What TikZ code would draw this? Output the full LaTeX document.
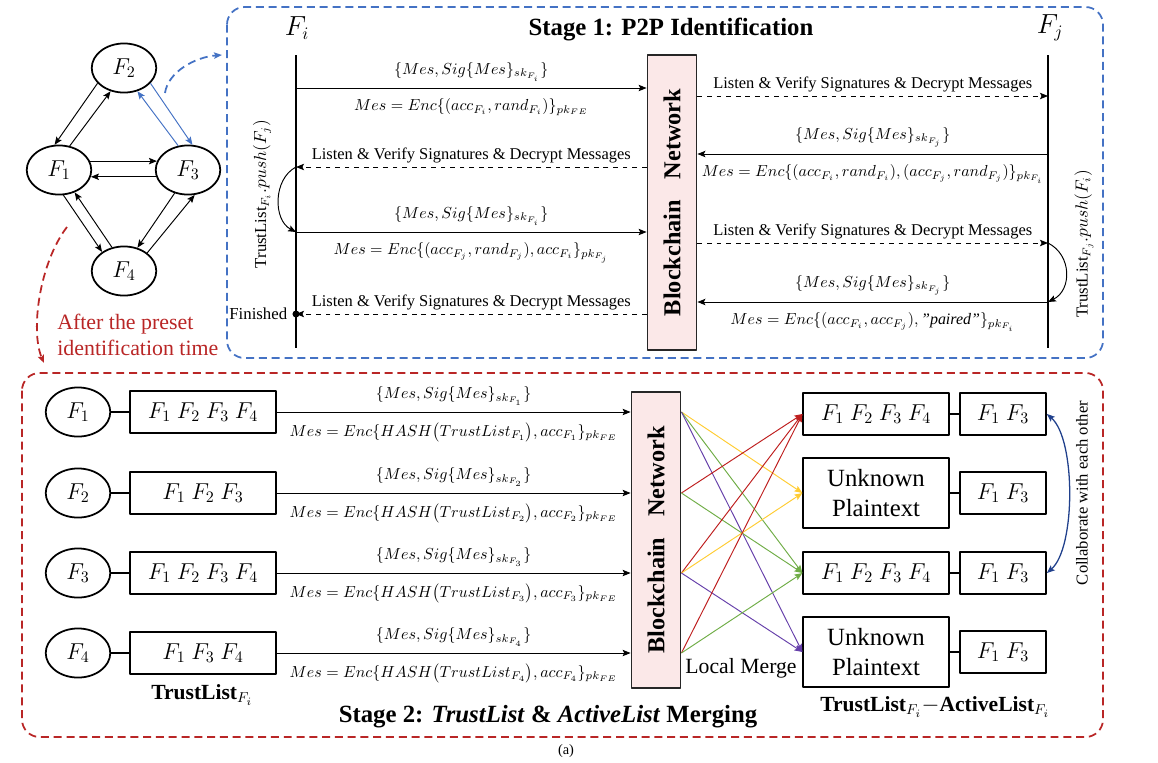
\documentclass[tikz,border=0pt]{standalone}
\usepackage{fontspec}
\setmainfont{Liberation Serif}
\usetikzlibrary{arrows.meta,positioning,shapes.geometric}
\definecolor{bluedash}{RGB}{68,114,196}
\definecolor{reddash}{RGB}{185,38,38}
\definecolor{chainpink}{RGB}{251,232,232}
\definecolor{lnred}{RGB}{190,30,30}
\definecolor{lnyellow}{RGB}{255,204,51}
\definecolor{lngreen}{RGB}{112,173,71}
\definecolor{lnpurple}{RGB}{102,64,170}
\definecolor{collab}{RGB}{32,64,140}
\newcommand{\setfs}[2]{\fontsize{#1}{#2}\selectfont}
\begin{document}
\begin{tikzpicture}[x=0.022cm, y=-0.022cm, line join=round, >={Stealth[length=5pt,width=4pt,inset=1pt]},
	fnode/.style={ellipse, draw, line width=1.1pt, minimum width=1.42cm, minimum height=1.08cm, inner sep=0pt, font=\setfs{14}{16}},
	listbox/.style={draw, line width=1.1pt, minimum width=3.2cm, minimum height=0.92cm, inner sep=0pt, font=\setfs{14}{16}},
	actbox/.style={listbox, minimum width=1.89cm},
	chainbox/.style={draw=black!85, line width=1.1pt, fill=chainpink, minimum width=1.08cm, minimum height=6.5cm},
	chaintext/.style={rotate=90, font=\bfseries\setfs{15.2}{18}},
	msg/.style={line width=0.6pt},
	lab/.style={font=\setfs{10}{12}, inner sep=2pt},
	listen/.style={font=\setfs{10.3}{12}, inner sep=2pt},
	lifeline/.style={line width=1.8pt},
	stagebox/.style={dash pattern=on 5pt off 3pt, line width=1.1pt, rounded corners=11pt}]
	\useasboundingbox (0,0) rectangle (1158,762);
	
	% federation graph
	\node[fnode] (g2) at (124,68) {$F_2$};
	\node[fnode] (g1) at (59,170) {$F_1$};
	\node[fnode] (g3) at (188,170) {$F_3$};
	\node[fnode] (g4) at (124,271) {$F_4$};
	\foreach \a/\b in {g2.210/g1.100, g1.66/g2.240, g1.16/g3.164, g3.192/g1.348, g1.280/g4.139, g4.117/g1.305, g3.240/g4.60, g4.38/g3.285}
	\draw[msg,->] (\a) -- (\b);
	\draw[msg,->,bluedash] (g2.330) -- (g3.80);
	\draw[msg,->,bluedash] (g3.112) -- (g2.300);
	
	\path
	(165,93) coordinate (bs)
	(222,55) coordinate (be)
	(67,227) coordinate (rs)
	(44,363) coordinate (re);
	\draw[stagebox,bluedash,->] (bs) .. controls (168,72) and (195,57) .. (be);
	\draw[stagebox,reddash,->] (rs) .. controls (40,262) and (30,330) .. (re);
	\node[reddash, anchor=west, align=left, font=\setfs{13.7}{16.3}, inner sep=0pt] (after) at (57,335) {After the preset\\identification time};
	
	% Stage 1
	\draw[stagebox,bluedash] (227,7) rectangle (1103,358);
	\node[font=\bfseries\setfs{15.5}{18}] (st1) at (671,30) {Stage 1: P2P Identification};
	\node[font=\setfs{16}{18}] (Fi) at (297,28) {$F_i$};
	\node[font=\setfs{16}{18}] (Fj) at (1050,28) {$F_j$};
	\path
	(296,55) coordinate (Fitop) (296,348) coordinate (Fibot)
	(1048,55) coordinate (Fjtop) (1048,348) coordinate (Fjbot)
	(296,88) coordinate (a1) (296,167) coordinate (a2) (296,232) coordinate (a3) (296,314) coordinate (a4)
	(1048,96) coordinate (b1) (1048,154) coordinate (b2) (1048,243) coordinate (b3) (1048,302) coordinate (b4);
	\draw[lifeline] (Fitop) -- (Fibot);
	\draw[lifeline] (Fjtop) -- (Fjbot);
	\node[chainbox] (bc1) at (672,202.5) {};
	\node[chaintext] at (bc1) {Blockchain\hspace{13pt}Network};
	
	\draw[msg,->] (a1) -- (a1 -| bc1.west)
	node[lab,midway,above=2pt] {$\{Mes,Sig\{Mes\}_{sk_{F_i}}\}$}
	node[lab,midway,below=4.5pt] {$Mes=Enc\{(acc_{F_i},rand_{F_i})\}_{pk_{FE}}$};
	\draw[msg,->,dashed] (a2 -| bc1.west) -- (a2) node[listen,midway,above] {Listen \& Verify Signatures \& Decrypt Messages};
	\draw[msg,->] (a3) -- (a3 -| bc1.west)
	node[lab,midway,above=2pt] {$\{Mes,Sig\{Mes\}_{sk_{F_i}}\}$}
	node[lab,midway,below=4.5pt] {$Mes=Enc\{(acc_{F_j},rand_{F_j}),acc_{F_i}\}_{pk_{F_j}}$};
	\draw[msg,->,dashed] (a4 -| bc1.west) -- (a4) node[listen,midway,above] {Listen \& Verify Signatures \& Decrypt Messages};
	\fill (a4) circle (2.2pt);
	\node[font=\setfs{10.5}{12}, left=2pt] (fin) at (a4) {Finished};
	
	\draw[msg,->,dashed] (b1 -| bc1.east) -- (b1) node[listen,midway,above] {Listen \& Verify Signatures \& Decrypt Messages};
	\draw[msg,->] (b2) -- (b2 -| bc1.east)
	node[lab,midway,above=2pt] {$\{Mes,Sig\{Mes\}_{sk_{F_j}}\}$}
	node[lab,midway,below=4.5pt] {$Mes=Enc\{(acc_{F_i},rand_{F_i}),(acc_{F_j},rand_{F_j})\}_{pk_{F_i}}$};
	\draw[msg,->,dashed] (b3 -| bc1.east) -- (b3) node[listen,midway,above] {Listen \& Verify Signatures \& Decrypt Messages};
	\draw[msg,->] (b4) -- (b4 -| bc1.east)
	node[lab,midway,above=2pt] {$\{Mes,Sig\{Mes\}_{sk_{F_j}}\}$}
	node[lab,midway,below=4.5pt] {$Mes=Enc\{(acc_{F_i},acc_{F_j}),\mbox{\itshape "paired"}\}_{pk_{F_i}}$};
	
	\draw[msg,->] (a2) .. controls +(-23,12) and +(-23,-12) .. (a3);
	\draw[msg,->] (b3) .. controls +(24,12) and +(24,-12) .. (b4);
	\node[rotate=90, font=\setfs{10.5}{12}] (pushj) at (262,194) {TrustList$_{F_i}.push(F_j)$};
	\node[rotate=90, font=\setfs{10.5}{12}] (pushi) at (1084,244) {TrustList$_{F_j}.push(F_i)$};
	
	% Stage 2
	\draw[stagebox,reddash] (22,373) rectangle (1103,737);
	\node[chainbox] (bc2) at (656,540) {};
	\node[chaintext] at (bc2) {Blockchain\hspace{13pt}Network};
	\foreach \i/\y/\lst in {1/412/{F_1\ F_2\ F_3\ F_4}, 2/493/{F_1\ F_2\ F_3}, 3/573/{F_1\ F_2\ F_3\ F_4}, 4/653/{F_1\ F_3\ F_4}} {
		\node[fnode] (e\i) at (78,\y) {$F_\i$};
		\node[listbox] (tl\i) at (203,\y) {$\lst$};
		\draw[line width=1.1pt] (e\i) -- (tl\i);
		\draw[msg,->] (tl\i) -- (tl\i -| bc2.west)
		node[lab,midway,above=2pt] {$\{Mes,Sig\{Mes\}_{sk_{F_\i}}\}$}
		node[lab,midway,below=4.5pt] {$Mes=Enc\{HASH\big(TrustList_{F_\i}\big),acc_{F_\i}\}_{pk_{FE}}$};
	}
	\node[listbox] (mg1) at (876,414) {$F_1\ F_2\ F_3\ F_4$};
	\node[listbox, minimum height=1.54cm, align=center, font=\setfs{15.5}{18.8}] (mg2) at (876,493) {Unknown\\Plaintext};
	\node[listbox] (mg3) at (876,573) {$F_1\ F_2\ F_3\ F_4$};
	\node[listbox, minimum height=1.54cm, align=center, font=\setfs{15.5}{18.8}] (mg4) at (876,652) {Unknown\\Plaintext};
	\foreach \i/\y in {1/414, 2/493, 3/573, 4/652} {
		\node[actbox] (ac\i) at (1003,\y) {$F_1\ F_3$};
		\draw[line width=1.1pt] (mg\i) -- (ac\i);
	}
	\foreach \s/\t/\c in {1/2/lnyellow, 1/3/lngreen, 1/4/lnpurple, 2/1/lnred, 2/3/lngreen, 3/1/lnred, 3/2/lnyellow, 3/4/lnpurple, 4/1/lnred, 4/3/lngreen}
	\draw[msg,->,\c] (tl\s -| bc2.east) -- (mg\t.west);
	
	\draw[<->, collab, line width=0.8pt] (ac1.east) .. controls +(29,25) and +(29,-25) .. (ac3.east);
	\node[rotate=90, font=\setfs{10.4}{12}] (collabtxt) at (1082,493) {Collaborate with each other};
	\node[font=\setfs{13.6}{16}] (lm) at (741,668) {Local Merge};
	\node[font=\bfseries\setfs{13.5}{16}] (tlname) at (202,695) {TrustList$_{F_i}$};
	\node[font=\bfseries\setfs{13.5}{16}] (diffname) at (935,707) {TrustList$_{F_i}-$ActiveList$_{F_i}$};
	\node[font=\bfseries\setfs{15.5}{18}] (st2) at (548,717) {Stage 2: \textit{TrustList} \& \textit{ActiveList} Merging};
	\node[font=\setfs{9}{11}] (cap) at (566,751) {(a)};
\end{tikzpicture}
\end{document}
